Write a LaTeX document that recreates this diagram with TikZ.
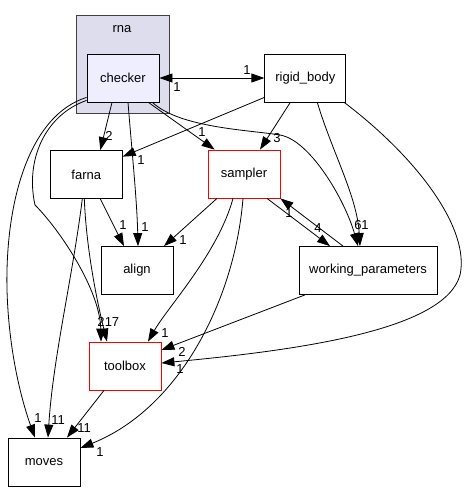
\documentclass[tikz,border=0pt]{standalone}
\usepackage{fontspec}
\setmainfont{Liberation Sans}
\usetikzlibrary{arrows.meta}
\definecolor{rnafill}{HTML}{DDDDEE}
\definecolor{chkfill}{HTML}{EEEEFF}
\definecolor{hotred}{HTML}{FF0000}

\begin{document}
\begin{tikzpicture}[x=1pt, y=-1pt,
		dirbox/.style={draw, line width=0.8pt, minimum width=72pt, minimum height=48pt, inner sep=0pt, font=\fontsize{13}{15}\selectfont},
		hot/.style={dirbox, draw=hotred},
		dep/.style={-{Triangle[length=13pt,width=9pt]}, line width=0.8pt},
		num/.style={inner sep=0pt, font=\fontsize{13}{15}\selectfont}]
		\useasboundingbox (0,0) rectangle (470,492);
		
		\node[draw=black!75, fill=rnafill, line width=0.8pt, minimum width=93pt, minimum height=98pt] (rna) at (122.5,64) {};
		\node[num] (rnaname) at (122,29) {rna};
		
		\node[dirbox, fill=chkfill] (checker) at (123,78) {checker};
		\node[dirbox, minimum width=81pt] (rigid) at (305.3,78) {rigid\_body};
		\node[dirbox] (farna) at (86.3,174.5) {farna};
		\node[hot] (sampler) at (244,174) {sampler};
		\node[dirbox] (align) at (137,270.5) {align};
		\node[dirbox, minimum width=138pt] (workpar) at (368,270.5) {working\_parameters};
		\node[hot] (toolbox) at (125,366) {toolbox};
		\node[dirbox] (moves) at (44,462) {moves};
		
		\draw[dep, {Triangle[length=13pt,width=9pt]}-{Triangle[length=13pt,width=9pt]}] (checker) -- (rigid)
			node[num] at (247,70) {1} node[num] at (177,87) {1};
		\draw[dep] ([xshift=-11pt]checker.south) -- ([xshift=14pt]farna.north) node[num] at (109,136) {2};
		\draw[dep] ([xshift=5pt]checker.south) .. controls +(4,50) and +(-1,-45) .. ([xshift=1pt]align.north)
			node[num] at (145,227) {1};
		\draw[dep] ([xshift=-11pt]checker.south east) -- ([xshift=7pt]sampler.north west) node[num] at (202,132) {1};
		\draw[dep] ([xshift=-7pt]checker.south east) .. controls (180,128) and (250,130) .. (280,135)
			.. controls (310,140) and (345,200) .. ([xshift=-10pt]workpar.north) node[num] at (358,225) {6};
		\draw[dep] ([yshift=2pt]checker.south west) .. controls (45,115) and (25,160) .. (35,205)
			.. controls (60,230) and (100,290) .. ([xshift=-24pt]toolbox.north) node[num] at (112,322) {17};
		\draw[dep] ([yshift=5pt]checker.south west) .. controls (30,115) and (5,200) .. (7,290)
			.. controls (9,360) and (25,410) .. ([xshift=-9pt]moves.north) node[num] at (38,418) {1};
		
		\draw[dep] ([yshift=5pt]rigid.south west) -- ([yshift=-6.5pt]farna.north east) node[num] at (141,160) {1};
		\draw[dep] ([xshift=-15pt]rigid.south) -- ([xshift=16pt]sampler.north) node[num] at (277,138) {3};
		\draw[dep] ([xshift=12pt]rigid.south) .. controls +(15,50) and +(-3,-50) .. ([xshift=-8pt]workpar.north)
			node[num] at (365,225) {1};
		\draw[dep] ([xshift=-2pt]rigid.south east) .. controls (420,160) and (470,230) .. (460,275)
			.. controls (445,330) and (300,350) .. ([yshift=3pt]toolbox.east) node[num] at (180,369) {1};
		
		\draw[dep] ([xshift=14pt]farna.south) -- ([xshift=-13pt]align.north) node[num] at (123,225) {1};
		\draw[dep] ([xshift=-2pt]farna.south) .. controls +(2,50) and +(-10,-40) .. ([xshift=-18pt]toolbox.north)
			node[num] at (101,322) {2};
		\draw[dep] ([xshift=-4pt]farna.south) .. controls +(-10,80) and +(5,-80) .. ([xshift=4pt]moves.north)
			node[num] at (58,420) {11};
		
		\draw[dep] ([xshift=-27pt]sampler.south) -- ([xshift=27pt]align.north) node[num] at (183,240) {1};
		\draw[dep] ([xshift=-11pt]sampler.south) .. controls +(-15,55) and +(20,-35) .. ([xshift=23pt]toolbox.north)
			node[num] at (165,333) {1};
		\draw[dep] ([xshift=-1pt]sampler.south) .. controls +(-8,100) and +(100,-40) .. ([yshift=14pt]moves.east)
			node[num] at (100,452) {1};
		\draw[dep] ([xshift=23pt]sampler.south) -- ([xshift=-38pt]workpar.north) node[num] at (318,228) {4};
		\draw[dep] ([xshift=-25pt]workpar.north) -- (sampler.south east) node[num] at (289,213) {1};
		
		\draw[dep] ([xshift=-63pt]workpar.south) -- ([yshift=16pt]toolbox.east) node[num] at (182,352) {2};
		\draw[dep] ([xshift=-21pt]toolbox.south) -- ([xshift=23pt]moves.north) node[num] at (84,428) {11};
	\end{tikzpicture}
\end{document}
